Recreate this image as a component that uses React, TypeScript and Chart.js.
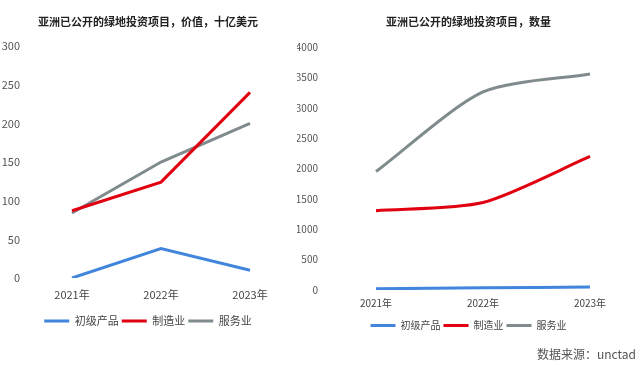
import React, { useEffect, useRef } from "react";
import { Chart, registerables } from "chart.js";

Chart.register(...registerables);

const categories = ["2021年", "2022年", "2023年"];
const seriesNames = ["初级产品", "制造业", "服务业"];
const seriesColors = ["#4285dd", "#e00010", "#808b8d"];

const valuePrimary = [0, 38, 10];
const valueManufacturing = [87, 124, 240];
const valueServices = [84, 150, 200];

const countPrimary = [20, 35, 50];
const countManufacturing = [1306, 1440, 2198];
const countServices = [1950, 3260, 3555];

const leftTitle = "亚洲已公开的绿地投资项目，价值，十亿美元";
const rightTitle = "亚洲已公开的绿地投资项目，数量";
const sourceText = "数据来源：unctad";

const FONT = "'Noto Sans CJK SC', 'Noto Sans', sans-serif";

type Cfg = {
  title: string;
  series: number[][];
  max: number;
  step: number;
  width: number;
  yWidth: number;
  yPad: number;
  rightWidth: number;
  xPad: number;
  xHeight: number;
  tension: number;
  fontSize: number;
  titlePadTop: number;
  titlePadBottom: number;
  bottomPad: number;
};

function LineChart({ cfg }: { cfg: Cfg }) {
  const ref = useRef<HTMLCanvasElement | null>(null);
  useEffect(() => {
    if (!ref.current) return;
    const chart = new Chart(ref.current, {
      type: "line",
      data: {
        labels: categories,
        datasets: cfg.series.map((d, i) => ({
          label: seriesNames[i],
          data: d,
          borderColor: seriesColors[i],
          backgroundColor: seriesColors[i],
          borderWidth: 3,
          pointRadius: 0,
          tension: cfg.tension,
          fill: false,
        })),
      },
      options: {
        animation: false,
        responsive: false,
        maintainAspectRatio: false,
        layout: { padding: { left: 0, right: 0, top: 0, bottom: cfg.bottomPad } },
        plugins: {
          title: {
            display: true,
            text: cfg.title,
            color: "#222",
            font: { family: FONT, size: 11, weight: "bold" },
            padding: { top: cfg.titlePadTop, bottom: cfg.titlePadBottom },
          },
          legend: {
            display: true,
            position: "bottom",
            labels: {
              boxWidth: 25,
              boxHeight: 3,
              padding: 3,
              color: "#444",
              font: { family: FONT, size: cfg.fontSize },
              generateLabels: (c: any) =>
                Chart.defaults.plugins.legend.labels
                  .generateLabels(c)
                  .map((l: any) => ({ ...l, lineWidth: 0, fillStyle: l.strokeStyle })),
            },
          },
          tooltip: { enabled: false },
        },
        scales: {
          x: {
            grid: { display: false, drawTicks: false },
            border: { display: false },
            ticks: { color: "#444", font: { family: FONT, size: cfg.fontSize }, padding: cfg.xPad, maxRotation: 0 },
            afterFit: (scale: any) => {
              scale.height = cfg.xHeight;
              scale.paddingLeft = 0;
              scale.paddingRight = 0;
            },
          },
          y: {
            min: 0,
            max: cfg.max,
            grid: { display: false, drawTicks: false },
            border: { display: false },
            ticks: {
              stepSize: cfg.step,
              color: "#555",
              font: { family: FONT, size: cfg.fontSize },
              padding: cfg.yPad,
              callback: (v: any) => String(v),
            },
            afterFit: (scale: any) => {
              scale.width = cfg.yWidth;
              scale.paddingTop = 0;
              scale.paddingBottom = 0;
            },
          },
          yr: {
            position: "right",
            grid: { display: false, drawTicks: false },
            border: { display: false },
            ticks: { display: false },
            afterFit: (scale: any) => {
              scale.width = cfg.rightWidth;
              scale.paddingTop = 0;
              scale.paddingBottom = 0;
            },
          },
        },
      },
    });
    return () => chart.destroy();
  }, []);
  return <canvas ref={ref} width={cfg.width} height={366} style={{ display: "block" }} />;
}

export default function App() {
  const left: Cfg = {
    title: leftTitle,
    series: [valuePrimary, valueManufacturing, valueServices],
    max: 300,
    step: 50,
    width: 296,
    yWidth: 72,
    yPad: 52,
    rightWidth: 46,
    xPad: 10,
    xHeight: 34.5,
    tension: 0,
    fontSize: 11,
    titlePadTop: 15,
    titlePadBottom: 17.8,
    bottomPad: 29.5,
  };
  const right: Cfg = {
    title: rightTitle,
    series: [countPrimary, countManufacturing, countServices],
    max: 4000,
    step: 500,
    width: 343,
    yWidth: 79,
    yPad: 58,
    rightWidth: 50,
    xPad: 7,
    xHeight: 27.5,
    tension: 0.25,
    fontSize: 10,
    titlePadTop: 15,
    titlePadBottom: 18.8,
    bottomPad: 25.5,
  };
  return (
    <div style={{ position: "fixed", left: 0, top: 0, width: 640, height: 366, background: "#fff", overflow: "hidden" }}>
      <div style={{ position: "absolute", left: 0, top: 0 }}>
        <LineChart cfg={left} />
      </div>
      <div style={{ position: "absolute", left: 297, top: 0 }}>
        <LineChart cfg={right} />
      </div>
      <div
        style={{
          position: "absolute",
          right: 4,
          top: 345,
          fontFamily: FONT,
          fontSize: 12,
          lineHeight: "18px",
          color: "#555",
          whiteSpace: "nowrap",
        }}
      >
        {sourceText}
      </div>
    </div>
  );
}
